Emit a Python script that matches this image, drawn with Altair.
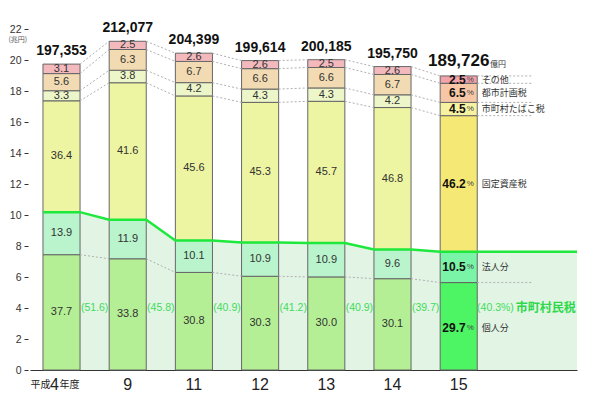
import altair as alt
import pandas as pd

# ---------------- data ----------------
years = ["平成4年度", "9", "11", "12", "13", "14", "15"]
totals = [197353, 212077, 204399, 199614, 200185, 195750, 189726]  # 億円
kojin = [37.7, 33.8, 30.8, 30.3, 30.0, 30.1, 29.7]
hojin = [13.9, 11.9, 10.1, 10.9, 10.9, 9.6, 10.5]
kotei = [36.4, 41.6, 45.6, 45.3, 45.7, 46.8, 46.2]
tabako = [3.3, 3.8, 4.2, 4.3, 4.3, 4.2, 4.5]
toshi = [5.6, 6.3, 6.7, 6.6, 6.6, 6.7, 6.5]
sonota = [3.1, 2.5, 2.6, 2.6, 2.5, 2.6, 2.5]
shichoson_share = ["(51.6)", "(45.8)", "(40.9)", "(41.2)", "(40.9)", "(39.7)", "(40.3%)"]
seg_names = ["個人分", "法人分", "固定資産税", "市町村たばこ税", "都市計画税", "その他"]
right_labels = ["個人分", "法人分", "固定資産税", "市町村たばこ税", "都市計画税", "その他"]
colors_norm = ["#b5ef95", "#b9f4cd", "#eef5a2", "#edf6c9", "#f2dbb2", "#f4b9bd"]
colors_last = ["#4df463", "#7af4a6", "#f6e874", "#f6f2a2", "#f6c6a6", "#f2a2aa"]

# ---------------- geometry helpers ----------------
HW = 0.28  # half bar width (x units)
XD = [-0.476, 7.787]
YD = [0, 22]
FONT = "Liberation Sans"
JFONT = "Noto Sans CJK JP"

xs = alt.Scale(domain=XD, nice=False, zero=False)
ys = alt.Scale(domain=YD, nice=False, zero=False)
xaxis = alt.Axis(labels=False, ticks=False, grid=False, title=None,
                 domainColor="#333", domainWidth=1.2)
yaxis = alt.Axis(values=list(range(0, 23, 2)), tickSize=4, offset=2, labelPadding=3,
                 domain=False, grid=False, title=None, labelFontSize=10.5,
                 labelColor="#333", tickColor="#333", labelFont=FONT)


def X(f="x"):
    return alt.X(f"{f}:Q", scale=xs, axis=xaxis)


def Y(f="y"):
    return alt.Y(f"{f}:Q", scale=ys, axis=yaxis)


series = [kojin, hojin, kotei, tabako, toshi, sonota]

seg_rows, bounds = [], []
for i in range(len(years)):
    T = totals[i] / 10000.0
    pcts = [s[i] for s in series]
    tot = sum(pcts)
    cum = 0.0
    b = [0.0]
    for k, p in enumerate(pcts):
        y0 = cum / tot * T
        cum += p
        y1 = cum / tot * T
        b.append(y1)
        seg_rows.append(dict(x=i - HW, x2=i + HW, y=y0, y2=y1,
                             c=(colors_last if i == 6 else colors_norm)[k],
                             mid=(y0 + y1) / 2, k=k, i=i, v=f"{p:.1f}"))
    bounds.append(b)
seg = pd.DataFrame(seg_rows)

# 市町村民税 line / area
pts = []
for i in range(len(years)):
    m = bounds[i][2]
    pts.append(dict(x=i - HW, y=m))
    pts.append(dict(x=i + HW, y=m))
pts.append(dict(x=XD[1], y=bounds[-1][2]))
line_df = pd.DataFrame(pts)

area = alt.Chart(line_df).mark_area(color="#e2f5e5", opacity=1).encode(
    x=X(), y=Y(), y2=alt.datum(0))
line = alt.Chart(line_df).mark_line(color="#1fe83c", strokeWidth=2.5).encode(x=X(), y=Y())

bars = alt.Chart(seg).mark_rect(stroke="#666666", strokeWidth=1).encode(
    x=X(), x2="x2:Q", y=Y(), y2="y2:Q", color=alt.Color("c:N", scale=None))

# dotted connecting lines
dots = []
levels = [1, 3, 4, 5, 6]
for i in range(len(years) - 1):
    for L in levels:
        dots.append(dict(x=i + HW, x2=i + 1 - HW, y=bounds[i][L], y2=bounds[i + 1][L]))
for L in levels:
    dots.append(dict(x=6 + HW, x2=7.12, y=bounds[6][L], y2=bounds[6][L]))
dot_df = pd.DataFrame(dots)
dotted = alt.Chart(dot_df).mark_rule(color="#b0b0b0", strokeDash=[2, 2], strokeWidth=1).encode(
    x=X(), x2="x2:Q", y=Y(), y2="y2:Q")

# segment value labels
norm_lab = seg[seg.i < 6].copy()
seg_text = alt.Chart(norm_lab).mark_text(font=FONT, fontSize=11, color="#333",
                                         baseline="middle").encode(
    x=X(), y=Y("mid"), text="v:N").transform_calculate(x="(datum.x + datum.x2)/2")
last_lab = seg[seg.i == 6].copy()
last_lab["xc"] = 6.0
last_lab.loc[last_lab.k == 0, "mid"] = 2.72
last_num = alt.Chart(last_lab).mark_text(font=FONT, fontSize=12, fontWeight="bold", color="#111",
                                         baseline="middle", align="right", dx=7).encode(
    x=X("xc"), y=Y("mid"), text="v:N")
last_pct = alt.Chart(last_lab.assign(p="%")).mark_text(font=FONT, fontSize=8, color="#444",
                                                       baseline="middle", align="left", dx=8).encode(
    x=X("xc"), y=Y("mid"), text="p:N")

# totals
tot_df = pd.DataFrame(dict(x=list(range(len(years))),
                           y=[bounds[i][6] for i in range(len(years))],
                           t=[f"{t:,}" for t in totals]))
tot_text = alt.Chart(tot_df[tot_df.x < 6]).mark_text(font=FONT, fontSize=14, fontWeight="bold",
                                                     color="#111", baseline="bottom", dy=-6).encode(
    x=X(), y=Y(), text="t:N")
tot_last = alt.Chart(tot_df[tot_df.x == 6]).mark_text(font=FONT, fontSize=17, fontWeight="bold",
                                                      color="#111", baseline="bottom", dy=-6).encode(
    x=X(), y=Y(), text="t:N")
oku = alt.Chart(tot_df[tot_df.x == 6].assign(u="億円", xu=6.473)).mark_text(
    font=JFONT, fontSize=8, color="#333", baseline="bottom", align="left", dy=-7).encode(
    x=X("xu"), y=Y(), text="u:N")

# share labels (green)
sh_df = pd.DataFrame(dict(x=[i + 0.5 for i in range(6)] + [6.277],
                          y=[4.0] * 7, t=shichoson_share,
                          a=["center"] * 6 + ["left"]))
sh_text = alt.Chart(sh_df[sh_df.a == "center"]).mark_text(font=FONT, fontSize=10.5, color="#3ddc58",
                                                          baseline="middle").encode(
    x=X(), y=Y(), text="t:N")
sh_last = alt.Chart(sh_df[sh_df.a == "left"]).mark_text(font=FONT, fontSize=10.5, color="#3ddc58",
                                                        baseline="middle", align="left").encode(
    x=X(), y=Y(), text="t:N")
shichoson = alt.Chart(pd.DataFrame(dict(x=[6.86], y=[4.0], t=["市町村民税"]))).mark_text(
    font=JFONT, fontSize=12, fontWeight="bold", color="#2fd84a", baseline="middle", align="left").encode(
    x=X(), y=Y(), text="t:N")

# right category labels
rl_y = [2.72] + [seg[(seg.i == 6) & (seg.k == k)].mid.values[0] for k in range(1, 6)]
rl_df = pd.DataFrame(dict(x=[6.35] * 6, y=rl_y, t=right_labels))
rl_text = alt.Chart(rl_df).mark_text(font=JFONT, fontSize=9, color="#333", baseline="middle",
                                     align="left").encode(x=X(), y=Y(), text="t:N")

# x tick labels
xl_df = pd.DataFrame(dict(x=list(range(1, 7)), y=[-0.95] * 6, t=years[1:]))
xl_text = alt.Chart(xl_df).mark_text(font=FONT, fontSize=16, color="#222", baseline="middle").encode(
    x=X(), y=Y(), text="t:N")
first_parts = pd.DataFrame(dict(x=[0, 0, 0], y=[-0.95] * 3, t=["平成", "4", "年度"]))
fp1 = alt.Chart(first_parts.iloc[[0]]).mark_text(font=JFONT, fontSize=10, color="#222",
                                                  baseline="middle", align="right", dx=-11).encode(
    x=X(), y=Y(), text="t:N")
fp2 = alt.Chart(first_parts.iloc[[1]]).mark_text(font=FONT, fontSize=16, color="#222",
                                                  baseline="middle", dx=-7).encode(
    x=X(), y=Y(), text="t:N")
fp3 = alt.Chart(first_parts.iloc[[2]]).mark_text(font=JFONT, fontSize=10, color="#222",
                                                  baseline="middle", align="left", dx=-2).encode(
    x=X(), y=Y(), text="t:N")

unit = alt.Chart(pd.DataFrame(dict(x=[-0.66], y=[21.3], t=["(兆円)"]))).mark_text(
    font=JFONT, fontSize=7, color="#555", baseline="middle").encode(x=X(), y=Y(), text="t:N")

chart = alt.layer(area, bars, dotted, line, seg_text, last_num, last_pct, tot_text, tot_last, oku,
                  sh_text, sh_last, shichoson, rl_text, xl_text, fp1, fp2, fp3, unit).properties(
    width=547, height=341,
    autosize=alt.AutoSizeParams(type="none"),
    padding={"left": 22, "top": 21, "right": 10, "bottom": 30},
    background="white",
).configure_view(strokeWidth=0)

chart.save("out.html", embed_options={"renderer": "svg", "actions": False})
